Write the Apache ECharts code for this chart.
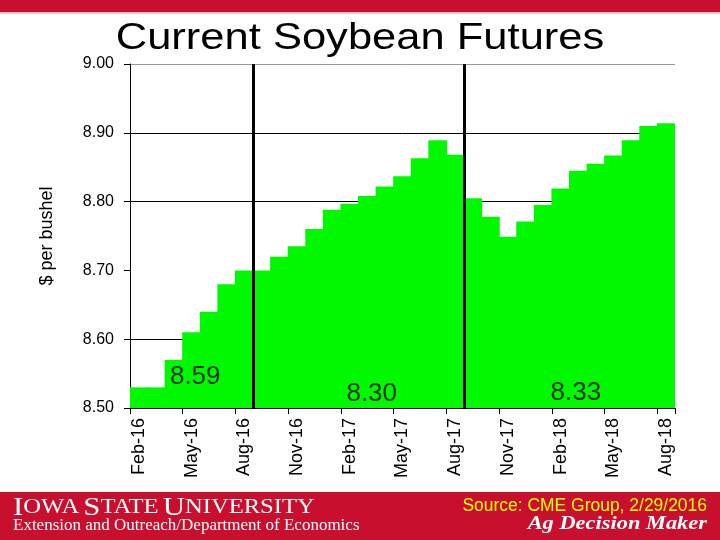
<!DOCTYPE html>
<html>
<head>
<meta charset="utf-8">
<script src="https://cdn.jsdelivr.net/npm/echarts@6/dist/echarts.min.js"></script>
<style>html,body{margin:0;padding:0;background:#fff}#c{width:720px;height:540px}</style>
</head>
<body>
<div id="c"></div>
<script>
var months = ['Feb-16','Mar-16','Apr-16','May-16','Jun-16','Jul-16','Aug-16','Sep-16','Oct-16','Nov-16','Dec-16','Jan-17',
  'Feb-17','Mar-17','Apr-17','May-17','Jun-17','Jul-17','Aug-17','Sep-17','Oct-17','Nov-17','Dec-17','Jan-18',
  'Feb-18','Mar-18','Apr-18','May-18','Jun-18','Jul-18','Aug-18'];
var prices = [8.53,8.53,8.57,8.61,8.64,8.68,8.70,8.70,8.72,8.735,8.76,8.788,
  8.797,8.808,8.822,8.837,8.863,8.889,8.868,8.805,8.778,8.749,8.771,8.795,
  8.819,8.845,8.855,8.867,8.889,8.910,8.914];
var dividers = [7, 19];          // boundaries between crop-year blocks (in month slots)
var annotations = [
  {text:'8.59', slot:3.71, value:8.545},
  {text:'8.30', slot:13.75, value:8.520},
  {text:'8.33', slot:25.36, value:8.522}
];
var yTicks = [8.5, 9.0, 0.1];

var chart = echarts.init(document.getElementById('c'));
var SANS = 'Liberation Sans, Arial, sans-serif';
var SERIF = 'Liberation Serif, Times New Roman, serif';
var RED = '#C8102E';
var GREEN = '#00F800';

chart.setOption({
  animation: false,
  backgroundColor: '#fff',
  grid: {left: 130, right: 45, top: 64, bottom: 132, containLabel: false},
  xAxis: [{
    type: 'category', data: months, boundaryGap: true,
    axisLine: {lineStyle: {color: '#000', width: 1}},
    axisTick: {show: true, interval: 2, length: 6, inside: false, lineStyle: {color: '#000'}},
    axisLabel: {interval: 2, rotate: 90, margin: 10, fontFamily: SANS, fontSize: 18, color: '#000'},
    splitLine: {show: false}
  }, {
    type: 'value', min: 0, max: months.length, show: false
  }],
  yAxis: {
    type: 'value', min: yTicks[0], max: yTicks[1], interval: yTicks[2],
    name: '$ per bushel', nameLocation: 'middle', nameGap: 74,
    nameTextStyle: {fontFamily: SANS, fontSize: 18, color: '#000'},
    axisLine: {show: true, lineStyle: {color: '#000'}},
    axisTick: {show: true, length: 6, lineStyle: {color: '#000'}},
    axisLabel: {margin: 16, fontFamily: SANS, fontSize: 16, color: '#000',
      formatter: function (v) { return v.toFixed(2); }},
    splitLine: {show: true, lineStyle: {color: ['#000','#000','rgba(0,0,0,0)','#000','#000','#999'], width: 1}}
  },
  series: [{
    type: 'bar', data: prices, barWidth: '106%', barGap: '-100%', barCategoryGap: '0%',
    itemStyle: {color: GREEN, borderWidth: 0}, silent: true, z: 2
  }, {
    type: 'line', xAxisIndex: 1, data: [], silent: true, z: 5,
    markLine: {
      silent: true, symbol: ['none','none'], label: {show: false},
      lineStyle: {color: '#000', width: 3, type: 'solid'},
      data: dividers.map(function (d) { return {xAxis: d}; })
    }
  }, {
    type: 'scatter', xAxisIndex: 1, symbolSize: 0, silent: true, z: 6,
    data: annotations.map(function (a) { return [a.slot, a.value]; }),
    label: {show: true, position: 'inside',
      formatter: function (p) { return annotations[p.dataIndex].text; },
      fontFamily: SANS, fontSize: 26, color: '#000'}
  }],
  graphic: [
    {type: 'rect', x: 0, y: 0, shape: {width: 720, height: 12}, style: {fill: RED}},
    {type: 'rect', x: 0, y: 12, shape: {width: 720, height: 2}, style: {fill: '#f2c6cc'}},
    {type: 'text', x: 360, y: 38.5, scaleX: 1.176, style: {
      text: 'Current Soybean Futures', fontFamily: SANS, fontSize: 37, fill: '#000',
      align: 'center', verticalAlign: 'middle'}},
    {type: 'rect', x: 0, y: 492, shape: {width: 720, height: 48}, style: {fill: RED}},
    {type: 'text', x: 13, y: 508, scaleX: 1.23, style: {
      text: '{a|I}{b|OWA} {a|S}{b|TATE} {a|U}{b|NIVERSITY}', verticalAlign: 'middle',
      rich: {a: {fontFamily: SERIF, fontSize: 25, fill: '#fff'}, b: {fontFamily: SERIF, fontSize: 20, fill: '#fff'}}
    }},
    {type: 'text', x: 13, y: 526, style: {text: 'Extension and Outreach/Department of Economics',
      fontFamily: SERIF, fontSize: 17, fill: '#fff', verticalAlign: 'middle'}},
    {type: 'text', x: 707, y: 506.5, scaleX: 0.97, style: {text: 'Source: CME Group, 2/29/2016',
      fontFamily: SANS, fontSize: 18, fill: '#FFFF00', align: 'right', verticalAlign: 'middle'}},
    {type: 'text', x: 707, y: 524.5, scaleX: 1.18, style: {text: 'Ag Decision Maker',
      fontFamily: SERIF, fontSize: 19, fontWeight: 'bold', fontStyle: 'italic', fill: '#fff',
      align: 'right', verticalAlign: 'middle'}}
  ]
});
</script>
</body>
</html>
